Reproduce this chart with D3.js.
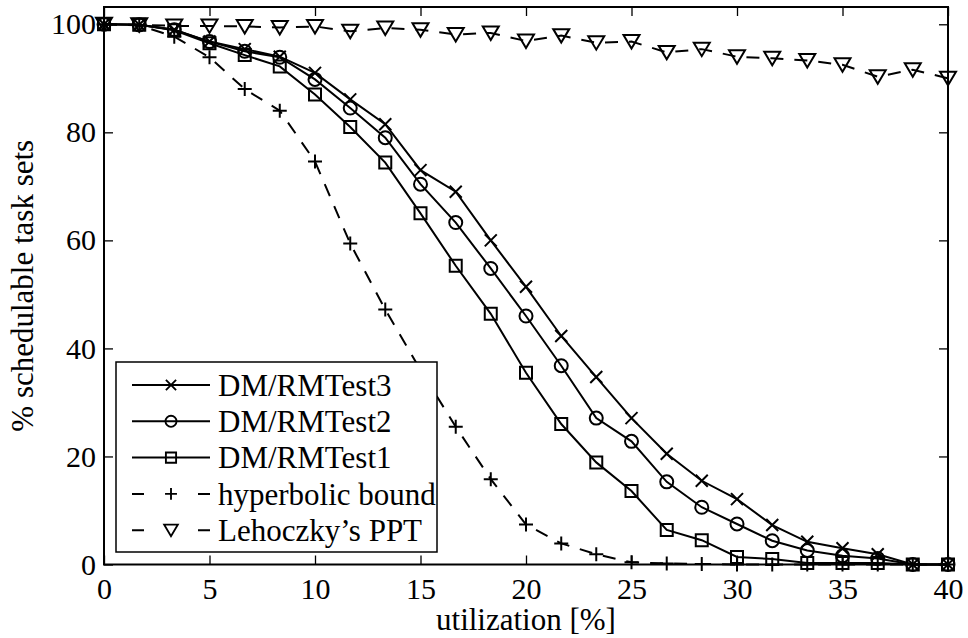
<!DOCTYPE html>
<html>
<head>
<meta charset="utf-8">
<script src="https://cdn.jsdelivr.net/npm/d3@7/dist/d3.min.js"></script>
<style>
  html, body { margin: 0; padding: 0; background: #fff; }
  svg { display: block; }
  text { font-family: "Liberation Serif", "Times New Roman", serif; fill: #000; }
</style>
</head>
<body>
<svg id="chart" width="968" height="638"></svg>
<script>
// ---- data ----
const utilization = [0, 1.67, 3.33, 5, 6.67, 8.33, 10, 11.67, 13.33, 15, 16.67, 18.33, 20,
                     21.67, 23.33, 25, 26.67, 28.33, 30, 31.67, 33.33, 35, 36.67, 38.33, 40];
const test3 = [100, 99.9, 99.0, 96.8, 95.4, 94.0, 91.0, 86.1, 81.5, 73.0, 69.0, 60.0, 51.4,
               42.3, 34.7, 27.1, 20.5, 15.5, 12.1, 7.3, 4.2, 3.0, 1.9, 0, 0];
const test2 = [100, 99.9, 99.0, 96.8, 95.0, 93.9, 89.8, 84.5, 79.0, 70.4, 63.3, 54.8, 46.0,
               36.8, 27.1, 22.8, 15.3, 10.6, 7.5, 4.4, 2.6, 1.6, 1.1, 0, 0];
const test1 = [100, 99.9, 98.9, 96.5, 94.3, 92.2, 87.0, 81.0, 74.4, 65.0, 55.3, 46.4, 35.5,
               26.0, 18.9, 13.6, 6.4, 4.5, 1.4, 1.0, 0.3, 0.3, 0.3, 0, 0];
const hyperbolic = [100, 99.8, 97.7, 93.9, 88.0, 84.0, 74.6, 59.4, 47.2, 36.0, 25.5, 15.8, 7.4,
                    3.9, 1.9, 0.4, 0.2, 0.1, 0, 0, 0, 0, 0, 0, 0];
const lehoczky = [100, 99.9, 99.7, 99.7, 99.6, 99.4, 99.6, 98.7, 99.3, 99.0, 98.1, 98.4, 96.9,
                  97.9, 96.6, 96.8, 94.8, 95.4, 94.0, 93.7, 93.3, 92.5, 90.3, 91.6, 90.0];
const seriesNames = ["DM/RMTest3", "DM/RMTest2", "DM/RMTest1", "hyperbolic bound", "Lehoczky\u2019s PPT"];
const xTicks = [0, 5, 10, 15, 20, 25, 30, 35, 40];
const yTicks = [0, 20, 40, 60, 80, 100];
const xLabel = "utilization [%]";
const yLabel = "% schedulable task sets";

// ---- layout ----
const L = 104, R = 948, T = 7, B = 564.5;
const svg = d3.select("#chart");
const x = d3.scaleLinear().domain([0, 40]).range([L, R]);
const y = d3.scaleLinear().domain([0, 103.2]).range([B, T]);

const markers = {
  x: "M-6,-6L6,6M-6,6L6,-6",
  o: "M6.5,0A6.5,6.5,0,1,1,-6.5,0A6.5,6.5,0,1,1,6.5,0Z",
  s: "M-6,-6H6V6H-6Z",
  plus: "M-7,0H7M0,-7V7",
  v: "M-8,-6.5H8L0,7Z"
};

const series = [
  { name: seriesNames[0], values: test3, marker: "x", dash: null },
  { name: seriesNames[1], values: test2, marker: "o", dash: null },
  { name: seriesNames[2], values: test1, marker: "s", dash: null },
  { name: seriesNames[3], values: hyperbolic, marker: "plus", dash: "13,11" },
  { name: seriesNames[4], values: lehoczky, marker: "v", dash: "13,11" }
];

// ---- axes ----
const fontTick = "30px";
const gx = svg.append("g").attr("transform", `translate(0,${B})`)
  .call(d3.axisBottom(x).tickValues(xTicks).tickSizeInner(-9).tickSizeOuter(0).tickPadding(13).tickFormat(d3.format("d")));
const gy = svg.append("g").attr("transform", `translate(${L},0)`)
  .call(d3.axisLeft(y).tickValues(yTicks).tickSizeInner(-9).tickSizeOuter(0).tickPadding(8).tickFormat(d3.format("d")));
const gt = svg.append("g").attr("transform", `translate(0,${T})`)
  .call(d3.axisTop(x).tickValues(xTicks).tickSizeInner(-9).tickSizeOuter(0).tickFormat(""));
const gr = svg.append("g").attr("transform", `translate(${R},0)`)
  .call(d3.axisRight(y).tickValues(yTicks).tickSizeInner(-9).tickSizeOuter(0).tickFormat(""));
[gx, gy, gt, gr].forEach(g => {
  g.select(".domain").remove();
  g.selectAll(".tick line").attr("stroke", "#000").attr("stroke-width", 1.3);
  g.selectAll(".tick text").attr("font-family", "Liberation Serif, serif").attr("font-size", fontTick).attr("fill", "#000");
});

// ---- series ----
const line = d3.line().x((d, i) => x(utilization[i])).y(d => y(d));
const gS = svg.append("g");
series.forEach(s => {
  const g = gS.append("g");
  g.append("path").attr("d", line(s.values))
    .attr("fill", "none").attr("stroke", "#000").attr("stroke-width", 2)
    .attr("stroke-dasharray", s.dash);
  g.selectAll("path.m").data(s.values).join("path").attr("class", "m")
    .attr("transform", (d, i) => `translate(${x(utilization[i])},${y(d)})`)
    .attr("d", markers[s.marker])
    .attr("fill", "none").attr("stroke", "#000").attr("stroke-width", 2);
});

// ---- frame ----
svg.append("rect").attr("x", L).attr("y", T).attr("width", R - L).attr("height", B - T)
  .attr("fill", "none").attr("stroke", "#000").attr("stroke-width", 2);

// ---- axis labels ----
svg.append("text").attr("x", (L + R) / 2).attr("y", 630).attr("text-anchor", "middle")
  .attr("font-size", "31px").text(xLabel);
svg.append("text").attr("transform", `translate(33,${(T + B) / 2}) rotate(-90)`)
  .attr("text-anchor", "middle").attr("font-size", "31px").text(yLabel);

// ---- legend ----
const lg = svg.append("g");
lg.append("rect").attr("x", 116).attr("y", 362).attr("width", 321).attr("height", 190)
  .attr("fill", "#fff").attr("stroke", "#000").attr("stroke-width", 1.5);
series.forEach((s, i) => {
  const ry = 385 + i * 36.3;
  lg.append("path").attr("d", `M132,${ry}H210`).attr("stroke", "#000").attr("stroke-width", 2)
    .attr("fill", "none").attr("stroke-dasharray", s.dash ? "12,54,12" : null);
  lg.append("path").attr("transform", `translate(171,${ry}) scale(0.85)`).attr("d", markers[s.marker])
    .attr("fill", "none").attr("stroke", "#000").attr("stroke-width", 2.2);
  lg.append("text").attr("x", 218).attr("y", ry).attr("dy", "0.35em")
    .attr("font-size", "31px").text(s.name);
});
</script>
</body>
</html>
